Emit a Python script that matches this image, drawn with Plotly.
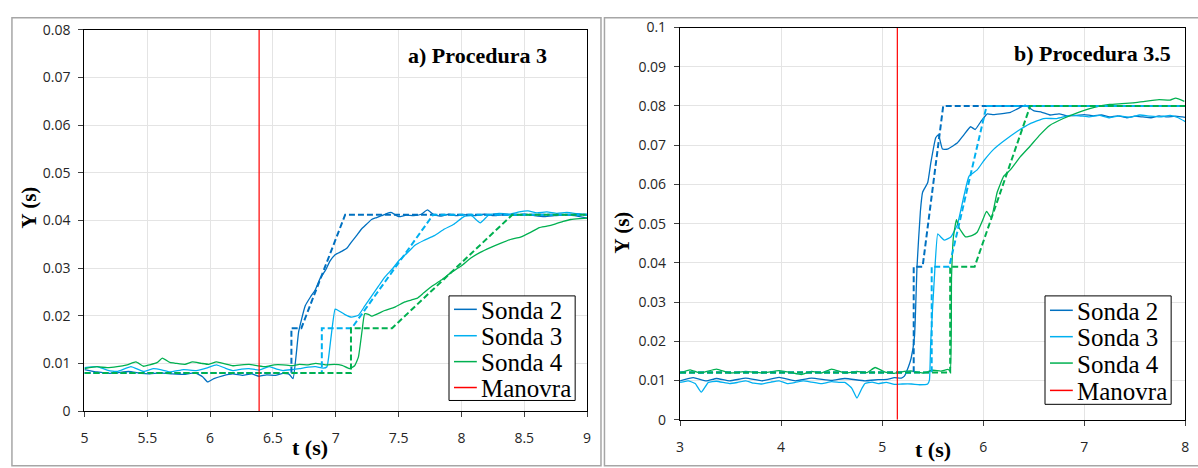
import plotly.graph_objects as go

W, H = 1198, 468

# ---------------- Panel a) Procedura 3 ----------------
a_t_s2 = [5.0, 5.1, 5.2, 5.26, 5.35, 5.45, 5.52, 5.6, 5.7, 5.79, 5.88, 5.94, 5.98, 6.03, 6.10, 6.18,
          6.26, 6.33, 6.39, 6.45, 6.52, 6.58, 6.63, 6.66, 6.705, 6.757, 6.80, 6.836, 6.875, 6.915,
          6.955, 6.995, 7.047, 7.09, 7.126, 7.165, 7.205, 7.245, 7.285, 7.325, 7.364, 7.40, 7.44,
          7.50, 7.56, 7.62, 7.68, 7.73, 7.78, 7.84, 7.90, 7.96, 8.02, 8.10, 8.18, 8.26, 8.34, 8.42,
          8.50, 8.58, 8.66, 8.74, 8.82, 8.90, 9.0]
a_y_s2 = [0.0087, 0.0082, 0.0079, 0.0080, 0.0083, 0.0079, 0.0078, 0.0080, 0.0078, 0.0077, 0.0080,
          0.0072, 0.0061, 0.0068, 0.0074, 0.0078, 0.0075, 0.0078, 0.0073, 0.0076, 0.0075, 0.0079,
          0.0077, 0.0068, 0.0167, 0.0221, 0.0240, 0.0254, 0.0278, 0.0294, 0.0315, 0.0328, 0.0335,
          0.0342, 0.0355, 0.0368, 0.0382, 0.0392, 0.0402, 0.0406, 0.0410, 0.0414, 0.0417, 0.0408,
          0.0411, 0.0410, 0.0413, 0.0422, 0.0412, 0.0409, 0.0413, 0.0410, 0.0412, 0.0410, 0.0413,
          0.0410, 0.0412, 0.0411, 0.0413, 0.0410, 0.0408, 0.0410, 0.0412, 0.0410, 0.0405]

a_t_s3 = [5.0, 5.1, 5.18, 5.26, 5.37, 5.47, 5.55, 5.62, 5.68, 5.79, 5.89, 5.97, 6.05, 6.12, 6.18,
          6.25, 6.31, 6.39, 6.47, 6.53, 6.58, 6.65, 6.71, 6.78, 6.84, 6.90, 6.93, 6.96, 6.995, 7.02,
          7.07, 7.126, 7.18, 7.23, 7.285, 7.34, 7.39, 7.45, 7.50, 7.57, 7.63, 7.70, 7.785, 7.865,
          7.94, 8.02, 8.08, 8.15, 8.22, 8.30, 8.38, 8.46, 8.53, 8.60, 8.68, 8.76, 8.84, 8.92, 9.0]
a_y_s3 = [0.0091, 0.0093, 0.0086, 0.0083, 0.0093, 0.0083, 0.0089, 0.0086, 0.0082, 0.0087, 0.0085,
          0.0090, 0.0097, 0.0090, 0.0085, 0.0088, 0.0089, 0.0086, 0.0093, 0.0088, 0.0085, 0.0087,
          0.0089, 0.0092, 0.0093, 0.0090, 0.0093, 0.0150, 0.0214, 0.0211, 0.0203, 0.0197, 0.0201,
          0.0220, 0.0241, 0.0262, 0.0281, 0.0298, 0.0315, 0.0332, 0.0348, 0.0358, 0.0368, 0.0382,
          0.0392, 0.0408, 0.0410, 0.0395, 0.0412, 0.0415, 0.0413, 0.0418, 0.0420, 0.0416, 0.0418,
          0.0415, 0.0417, 0.0414, 0.0412]

a_t_s4 = [5.0, 5.1, 5.18, 5.26, 5.34, 5.41, 5.47, 5.52, 5.58, 5.62, 5.68, 5.73, 5.8, 5.86, 5.93,
          5.99, 6.05, 6.12, 6.18, 6.25, 6.31, 6.38, 6.44, 6.51, 6.58, 6.65, 6.71, 6.78, 6.84, 6.92,
          6.99, 7.05, 7.11, 7.15, 7.18, 7.21, 7.23, 7.26, 7.285, 7.34, 7.39, 7.47, 7.55, 7.60, 7.65,
          7.70, 7.76, 7.84, 7.92, 8.00, 8.075, 8.15, 8.23, 8.31, 8.39, 8.47, 8.55, 8.62, 8.68, 8.75,
          8.81, 8.87, 8.94, 9.0]
a_y_s4 = [0.0089, 0.0093, 0.0091, 0.0093, 0.0097, 0.0103, 0.0094, 0.0097, 0.0102, 0.0111, 0.0102,
          0.0100, 0.0098, 0.0103, 0.0100, 0.0098, 0.0103, 0.0099, 0.0095, 0.0097, 0.0098, 0.0095,
          0.0093, 0.0097, 0.0097, 0.0095, 0.0098, 0.0097, 0.0100, 0.0097, 0.0098, 0.0096, 0.0089,
          0.0095, 0.0113, 0.0170, 0.0204, 0.0203, 0.0199, 0.0205, 0.0211, 0.0218, 0.0229, 0.0233,
          0.0237, 0.0248, 0.0261, 0.0275, 0.0291, 0.0305, 0.0321, 0.0333, 0.0343, 0.0352, 0.0360,
          0.0365, 0.0375, 0.0385, 0.0388, 0.0393, 0.0398, 0.0402, 0.0404, 0.0405]

# ideal (dashed) responses
a_t_d2 = [5.0, 6.647, 6.647, 6.726, 7.075, 9.0]
a_t_d3 = [5.0, 6.889, 6.889, 7.127, 7.775, 9.0]
a_t_d4 = [5.0, 7.121, 7.121, 7.448, 8.405, 9.0]
a_y_d = [0.0080, 0.0080, 0.0174, 0.0174, 0.0412, 0.0412]

a_manovra_t = 6.39
a_ymax = 0.08

# ---------------- Panel b) Procedura 3.5 ----------------
b_t_s2 = [3.0, 3.13, 3.26, 3.36, 3.49, 3.65, 3.81, 3.98, 4.14, 4.30, 4.50, 4.63, 4.83, 4.96, 5.05,
          5.12, 5.19, 5.22, 5.26, 5.286, 5.32, 5.345, 5.378, 5.40, 5.45, 5.48, 5.53, 5.557, 5.597,
          5.646, 5.70, 5.745, 5.81, 5.875, 5.92, 5.973, 6.04, 6.10, 6.17, 6.27, 6.334, 6.415, 6.498,
          6.58, 6.66, 6.75, 6.83, 6.92, 7.0, 7.09, 7.17, 7.25, 7.33, 7.42, 7.50, 7.58, 7.66, 7.74,
          7.82, 7.90, 7.97, 8.0]
b_y_s2 = [0.0099, 0.0107, 0.0099, 0.0105, 0.0099, 0.0106, 0.0099, 0.0108, 0.0099, 0.0106, 0.0100,
          0.0105, 0.0099, 0.0102, 0.0103, 0.0107, 0.0106, 0.0111, 0.0135, 0.0156, 0.0213, 0.0392,
          0.0531, 0.0580, 0.0604, 0.0653, 0.0719, 0.0727, 0.0690, 0.0690, 0.0698, 0.0706, 0.0727,
          0.0747, 0.0740, 0.0759, 0.0780, 0.0778, 0.0780, 0.0784, 0.0792, 0.0802, 0.0788, 0.0784,
          0.0777, 0.0780, 0.0775, 0.0776, 0.0778, 0.0775, 0.0777, 0.0772, 0.0775, 0.0770, 0.0774,
          0.0772, 0.0770, 0.0775, 0.0772, 0.0774, 0.0772, 0.0771]

b_t_s3 = [3.0, 3.08, 3.15, 3.21, 3.28, 3.36, 3.49, 3.57, 3.65, 3.73, 3.81, 3.90, 3.98, 4.06, 4.14,
          4.22, 4.30, 4.40, 4.50, 4.58, 4.63, 4.70, 4.75, 4.80, 4.83, 4.90, 4.96, 5.04, 5.12, 5.20,
          5.29, 5.37, 5.45, 5.467, 5.48, 5.516, 5.55, 5.58, 5.614, 5.68, 5.745, 5.81, 5.86, 5.94,
          6.007, 6.105, 6.20, 6.334, 6.465, 6.596, 6.727, 6.857, 6.95, 7.05, 7.15, 7.25, 7.35, 7.45,
          7.55, 7.65, 7.75, 7.85, 7.93, 8.0]
b_y_s3 = [0.0095, 0.0099, 0.0092, 0.0070, 0.0095, 0.0098, 0.0092, 0.0095, 0.0099, 0.0093, 0.0091,
          0.0096, 0.0099, 0.0092, 0.0095, 0.0099, 0.0096, 0.0092, 0.0097, 0.0095, 0.0095, 0.0080,
          0.0055, 0.0080, 0.0092, 0.0096, 0.0092, 0.0095, 0.0090, 0.0091, 0.0091, 0.0089, 0.0091,
          0.0100, 0.0196, 0.0360, 0.0474, 0.0466, 0.0458, 0.0466, 0.0498, 0.0572, 0.0621, 0.0637,
          0.0661, 0.0690, 0.0710, 0.0735, 0.0755, 0.0768, 0.0768, 0.0776, 0.0775, 0.0772, 0.0776,
          0.0770, 0.0775, 0.0771, 0.0777, 0.0774, 0.0772, 0.0776, 0.0770, 0.0760]

b_t_s4 = [3.0, 3.1, 3.2, 3.36, 3.49, 3.65, 3.81, 3.98, 4.1, 4.2, 4.3, 4.40, 4.5, 4.63, 4.75, 4.85,
          4.93, 5.03, 5.12, 5.22, 5.30, 5.40, 5.50, 5.58, 5.65, 5.673, 5.686, 5.705, 5.735, 5.76,
          5.826, 5.892, 5.94, 5.99, 6.033, 6.08, 6.138, 6.203, 6.268, 6.366, 6.465, 6.563, 6.661,
          6.792, 6.923, 7.09, 7.25, 7.37, 7.48, 7.60, 7.74, 7.85, 7.905, 7.99]
b_y_s4 = [0.0119, 0.0127, 0.0119, 0.0129, 0.0119, 0.0123, 0.0119, 0.0125, 0.0120, 0.0115, 0.0123,
          0.0119, 0.0129, 0.0119, 0.0123, 0.0120, 0.0133, 0.0121, 0.0118, 0.0123, 0.0124, 0.0119,
          0.0126, 0.0124, 0.0128, 0.0125, 0.0360, 0.0466, 0.0510, 0.0490, 0.0466, 0.0470, 0.0478,
          0.0506, 0.0531, 0.0515, 0.0580, 0.0621, 0.0637, 0.0670, 0.0698, 0.0727, 0.0751, 0.0768,
          0.0782, 0.0796, 0.0804, 0.0806, 0.0808, 0.0812, 0.0816, 0.0815, 0.0820, 0.0812]

b_t_d2 = [3.0, 5.312, 5.312, 5.40, 5.604, 8.0]
b_t_d3 = [3.0, 5.49, 5.49, 5.663, 6.033, 8.0]
b_t_d4 = [3.0, 5.673, 5.673, 5.915, 6.465, 8.0]
b_y_d = [0.012, 0.012, 0.039, 0.039, 0.080, 0.080]

b_manovra_t = 5.15
b_ymax = 0.1

legend_names = ["Sonda 2", "Sonda 3", "Sonda 4", "Manovra"]
colors = ["#0070C0", "#00B0F0", "#00B050"]
red = "#FF0000"

SERIF = "Liberation Serif"
fig = go.Figure()


def add_panel(xa, ya, sol, dashed, t_man, ymax):
    for (t, y), name, c in zip(sol, legend_names, colors):
        fig.add_trace(go.Scatter(x=t, y=y, mode="lines", name=name, xaxis=xa, yaxis=ya,
                                 showlegend=False,
                                 line=dict(color=c, width=1.3, shape="spline", smoothing=0.4)))
    for (t, y), name, c in zip(dashed, legend_names, colors):
        fig.add_trace(go.Scatter(x=t, y=y, mode="lines", name=name, showlegend=False,
                                 xaxis=xa, yaxis=ya,
                                 line=dict(color=c, width=2, dash="6px,3px")))
    fig.add_trace(go.Scatter(x=[t_man, t_man], y=[0, ymax], mode="lines", name=legend_names[3],
                             xaxis=xa, yaxis=ya, showlegend=False,
                             line=dict(color=red, width=1.2)))


add_panel("x", "y",
          [(a_t_s2, a_y_s2), (a_t_s3, a_y_s3), (a_t_s4, a_y_s4)],
          [(a_t_d2, a_y_d), (a_t_d3, a_y_d), (a_t_d4, a_y_d)],
          a_manovra_t, a_ymax)
add_panel("x2", "y2",
          [(b_t_s2, b_y_s2), (b_t_s3, b_y_s3), (b_t_s4, b_y_s4)],
          [(b_t_d2, b_y_d), (b_t_d3, b_y_d), (b_t_d4, b_y_d)],
          b_manovra_t, b_ymax)

tick_font = dict(family="Open Sans", size=14, color="#262626")
grid = "#E4E4E4"


def axis_style(**kw):
    d = dict(showline=True, linecolor="#000000", linewidth=1.3, mirror=True,
             showgrid=True, gridcolor=grid, gridwidth=1, zeroline=False,
             ticks="outside", ticklen=5, tickcolor="#404040", tickwidth=1,
             tickfont=tick_font)
    d.update(kw)
    return d


px = lambda v: v / W
py = lambda v: 1 - v / H

fig.update_layout(
    width=W, height=H, margin=dict(l=0, r=0, t=0, b=0),
    paper_bgcolor="white", plot_bgcolor="white",
    font=dict(family=SERIF, size=22, color="#000"),
    showlegend=False,
    xaxis=axis_style(domain=[px(81), px(587)], range=[5, 9], dtick=0.5, anchor="y",
                     ticklabelstandoff=9),
    yaxis=axis_style(domain=[py(418), py(20.7)], range=[0, 0.08], dtick=0.01, anchor="x",
                     ticklabelstandoff=5),
    xaxis2=axis_style(domain=[px(680.6), px(1189.3)], range=[3, 8], dtick=1, anchor="y2",
                      ticklabelstandoff=9),
    yaxis2=axis_style(domain=[py(427), py(18.3)], range=[0, 0.1], dtick=0.01, anchor="x2",
                      ticklabelstandoff=5),
)

serif_b = dict(family=SERIF, color="#000")
annots = [
    dict(text="<b>a) Procedura 3</b>", x=px(549), y=py(47), xanchor="right", yanchor="middle",
         font=dict(size=22, **serif_b)),
    dict(text="<b>b) Procedura 3.5</b>", x=px(1177), y=py(45), xanchor="right", yanchor="middle",
         font=dict(size=22, **serif_b)),
    dict(text="<b>Y (s)</b>", x=px(25), y=py(206), textangle=-90, xanchor="center",
         yanchor="middle", font=dict(size=21, **serif_b)),
    dict(text="<b>Y (s)</b>", x=px(622), y=py(232), textangle=-90, xanchor="center",
         yanchor="middle", font=dict(size=21, **serif_b)),
    dict(text="<b>t (s)</b>", x=px(308), y=py(456), xanchor="center", yanchor="middle",
         font=dict(size=22, **serif_b)),
    dict(text="<b>t (s)</b>", x=px(935), y=py(458), xanchor="center", yanchor="middle",
         font=dict(size=22, **serif_b)),
]

# outer chart-area frames of the two panels
frame = dict(type="rect", xref="paper", yref="paper", line=dict(color="#A6A6A6", width=1.5),
             fillcolor="rgba(0,0,0,0)", layer="below")
shapes = [
    dict(x0=px(8), x1=px(601), y0=py(475), y1=py(8), **frame),
    dict(x0=px(604.5), x1=px(1203), y0=py(475), y1=py(8), **frame),
]

# legend boxes (sample line + serif label per entry), one per panel
legend_colors = colors + [red]


def add_legend(x0, x1, y0, y1, rows):
    shapes.append(dict(type="rect", xref="paper", yref="paper", x0=px(x0), x1=px(x1),
                       y0=py(y1), y1=py(y0), line=dict(color="#000000", width=1),
                       fillcolor="white", layer="above"))
    for name, c, yr in zip(legend_names, legend_colors, rows):
        shapes.append(dict(type="line", xref="paper", yref="paper", x0=px(x0 + 5),
                           x1=px(x0 + 28), y0=py(yr), y1=py(yr),
                           line=dict(color=c, width=1.5), layer="above"))
        annots.append(dict(text=name, x=px(x0 + 30), y=py(yr + 1), xanchor="left",
                           yanchor="middle", font=dict(family=SERIF, size=25, color="#000")))


add_legend(448, 575, 298, 407, [312, 339.5, 366.5, 393.5])
add_legend(1048, 1175, 298, 411, [313, 340.5, 368, 396.5])

for a in annots:
    a.update(xref="paper", yref="paper", showarrow=False)
fig.update_layout(annotations=annots, shapes=shapes)

fig.write_html("out.html")
